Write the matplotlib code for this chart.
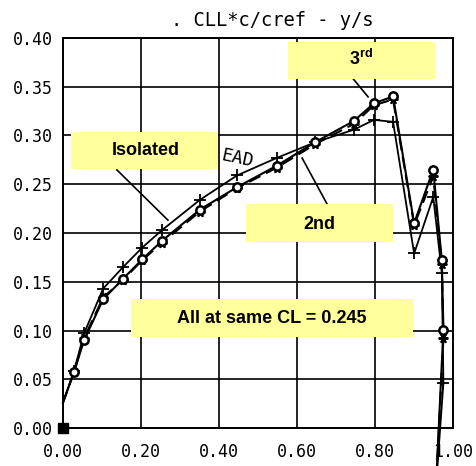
import matplotlib
matplotlib.use("Agg")
import matplotlib.pyplot as plt
from matplotlib.patches import Rectangle
from matplotlib.lines import Line2D

# spanwise stations (y/s) and loading CLL*c/cref for each wing position
y_s = [0.0, 0.028, 0.054, 0.103, 0.154, 0.203, 0.254, 0.351, 0.446, 0.548,
       0.646, 0.746, 0.797, 0.846, 0.900, 0.949, 0.971, 0.975, 0.956]
isolated = [0.026, 0.058, 0.097, 0.143, 0.165, 0.185, 0.203, 0.234, 0.259, 0.277,
            0.293, 0.306, 0.316, 0.314, 0.179, 0.237, 0.159, 0.046, -0.06]
second = [0.026, 0.057, 0.092, 0.134, 0.152, 0.172, 0.190, 0.222, 0.246, 0.267,
          0.291, 0.312, 0.331, 0.337, 0.208, 0.258, 0.168, 0.092, -0.06]
third = [0.026, 0.057, 0.090, 0.132, 0.153, 0.173, 0.192, 0.224, 0.247, 0.269,
         0.293, 0.315, 0.333, 0.340, 0.210, 0.265, 0.172, 0.101, -0.06]
root = (0.0, 0.0)

x_ticks = [0.0, 0.2, 0.4, 0.6, 0.8, 1.0]
y_ticks = [0.0, 0.05, 0.10, 0.15, 0.20, 0.25, 0.30, 0.35, 0.40]

# callout boxes in axes fraction: (x0, y0, w, h, label, text x, text y)
callouts = [
	(0.021, 0.664, 0.376, 0.095, "Isolated", 0.211, 0.712),
	(0.577, 0.895, 0.377, 0.095, "3$^{\\mathregular{rd}}$", 0.765, 0.945),
	(0.469, 0.477, 0.377, 0.097, "2nd", 0.656, 0.523),
	(0.174, 0.233, 0.723, 0.098, "All at same CL = 0.245", 0.535, 0.282),
]
# leader lines in axes fraction
leaders = [
	((0.138, 0.662), (0.269, 0.533)),
	((0.744, 0.895), (0.782, 0.849)),
	((0.613, 0.692), (0.677, 0.574)),
]

YELLOW = "#ffff9c"
MONO = "DejaVu Sans Mono"


def drawplot():
	fig = plt.figure(figsize=(4.77, 4.66), dpi=100)
	ax = fig.add_axes([0.132, 0.0815, 0.818, 0.837])
	ax.set_xlim(0, 1.0)
	ax.set_ylim(0, 0.4)
	ax.set_xticks(x_ticks)
	ax.set_yticks(y_ticks)
	ax.set_xticklabels(["%.2f" % v for v in x_ticks], family=MONO, fontsize=12)
	ax.set_yticklabels(["%.2f" % v for v in y_ticks], family=MONO, fontsize=12)
	ax.tick_params(length=0)
	ax.tick_params(axis="x", pad=11)
	ax.tick_params(axis="y", pad=7)
	ax.grid(True, color="black", lw=1.2)
	ax.set_axisbelow(True)
	for s in ax.spines.values():
		s.set_linewidth(1.4)

	mk = slice(1, len(y_s) - 1)
	ax.plot(y_s, isolated, color="black", lw=1.3, marker="+", ms=8, mew=1.3,
	        markevery=mk, clip_on=False, zorder=3)
	ax.plot(y_s, second, color="black", lw=1.5, ls=(0, (6, 3)), marker=(6, 2, 90),
	        ms=7, mew=1.4, markevery=mk, clip_on=False, zorder=3)
	ax.plot(y_s, third, color="black", lw=1.5, marker="o", ms=6, mew=1.8,
	        mfc="white", markevery=mk, clip_on=False, zorder=3)
	ax.plot(*root, marker="s", color="black", ms=7, clip_on=False, zorder=4)

	# left-over plotter lettering
	ax.text(0.40, 0.69, "EAD", family=MONO, fontsize=13, rotation=-12,
	        transform=ax.transAxes, ha="left", va="center", zorder=3)

	for (a, b) in leaders:
		ax.add_line(Line2D([a[0], b[0]], [a[1], b[1]], color="black", lw=1.2,
		                   transform=ax.transAxes, clip_on=False, zorder=5))

	for (x0, y0, w, h, label, tx, ty) in callouts:
		ax.add_patch(Rectangle((x0, y0), w, h, transform=ax.transAxes,
		                       facecolor=YELLOW, edgecolor="none", zorder=6,
		                       clip_on=False))
		ax.text(tx, ty, label, transform=ax.transAxes, ha="center", va="center",
		        family="Liberation Sans", weight="bold", fontsize=13, zorder=7)

	fig.text(0.571, 0.955, ". CLL*c/cref - y/s", family=MONO, fontsize=13.5,
	         ha="center", va="center")
	fig.savefig("out.png", dpi=100)


if __name__ == "__main__":
	drawplot()
